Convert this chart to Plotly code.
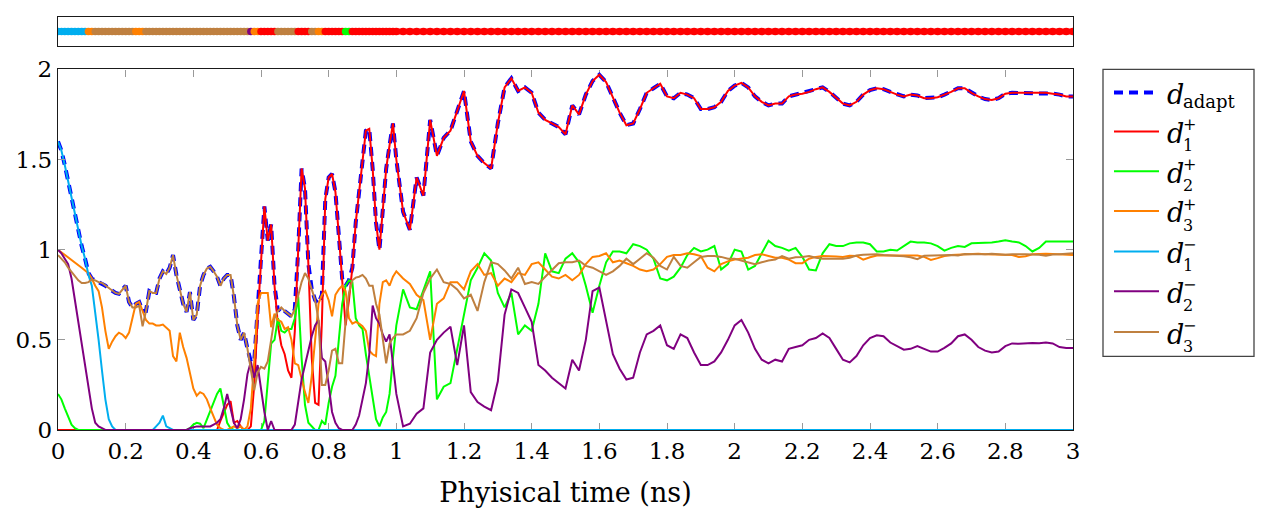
import numpy as np
import plotly.graph_objects as go

# Sampling times (ns): 0.01 ns steps up to 1 ns, 0.02 ns steps afterwards
t_early = np.round(np.arange(0.0, 1.0001, 0.01), 2)
t_late = np.round(np.arange(1.02, 3.0001, 0.02), 2)

# ---- d1+ ----
d1p_early = [
    0, 0, 0, 0, 0, 0, 0, 0, 0, 0,
    0, 0, 0, 0, 0, 0, 0, 0, 0, 0,
    0, 0, 0, 0, 0, 0, 0, 0, 0, 0,
    0, 0, 0, 0, 0, 0, 0, 0, 0, 0,
    0, 0, 0, 0, 0, 0, 0, 0.00, 0.05, 0.10,
    0.14, 0.16, 0.04, 0.05, 0.02, 0.00, 0.00, 0.02, 0.25, 0.62,
    0.95, 1.24, 1.05, 1.14, 0.80, 0.58, 0.47, 0.42, 0.33, 0.29,
    0.55, 1.00, 1.45, 1.34, 0.92, 0.40, 0.15, 0.14, 0.60, 1.28,
    1.40, 1.42, 1.32, 1.08, 0.84, 0.58, 0.72, 0.90, 1.15, 1.32,
    1.50, 1.66, 1.67, 1.45, 1.15, 1.00, 1.22, 1.45, 1.58, 1.70,
    1.50,
]
d1p_late = [
    1.21, 1.11, 1.40, 1.30, 1.72, 1.52, 1.62, 1.66, 1.77, 1.88,
    1.60, 1.52, 1.48, 1.45, 1.70, 1.90, 1.95, 1.88, 1.90, 1.87,
    1.76, 1.72, 1.70, 1.68, 1.64, 1.80, 1.75, 1.86, 1.935, 1.97,
    1.93, 1.84, 1.76, 1.69, 1.70, 1.78, 1.87, 1.895, 1.92, 1.85,
    1.84, 1.87, 1.86, 1.84, 1.78, 1.78, 1.79, 1.82, 1.88, 1.91,
    1.925, 1.90, 1.85, 1.82, 1.80, 1.81, 1.81, 1.85, 1.86, 1.865,
    1.875, 1.89, 1.90, 1.875, 1.84, 1.81, 1.80, 1.82, 1.86, 1.885,
    1.895, 1.89, 1.875, 1.86, 1.85, 1.86, 1.855, 1.84, 1.84, 1.845,
    1.86, 1.875, 1.895, 1.895, 1.87, 1.85, 1.835, 1.83, 1.84, 1.865,
    1.87, 1.87, 1.87, 1.87, 1.87, 1.87, 1.865, 1.86, 1.85, 1.85,
]

# ---- d2+ ----
d2p_early = [
    0.20, 0.17, 0.12, 0.07, 0.03, 0.01, 0, 0, 0, 0,
    0, 0, 0, 0, 0, 0, 0, 0, 0, 0,
    0, 0, 0, 0, 0, 0, 0, 0, 0, 0,
    0, 0, 0, 0, 0, 0, 0, 0, 0, 0.01,
    0.03, 0.04, 0.035, 0.01, 0.06, 0.11, 0.16, 0.20, 0.23, 0.14,
    0.04, 0.01, 0, 0, 0, 0, 0, 0, 0, 0,
    0, 0.05, 0.25, 0.48, 0.50, 0.62, 0.55, 0.54, 0.56, 0.56,
    0.62, 0.74, 0.40, 0.14, 0.04, 0.02, 0.0, 0.0, 0.05, 0.03,
    0.15, 0.24, 0.30, 0.50, 0.70, 0.80, 0.83, 0.82, 0.62, 0.58,
    0.56, 0.42, 0.30, 0.18, 0.06, 0.02, 0.07, 0.10, 0.20, 0.40,
    0.58,
]
d2p_late = [
    0.78, 0.68, 0.67, 0.78, 0.88, 0.17, 0.24, 0.26, 0.45, 0.66,
    0.83, 0.90, 0.98, 0.94, 0.76, 0.68, 0.76, 0.53, 0.58, 0.55,
    0.70, 0.98, 0.88, 0.87, 0.95, 0.98, 0.93, 0.80, 0.65, 0.80,
    0.93, 0.99, 0.99, 0.98, 1.03, 1.02, 1.00, 0.95, 0.84, 0.83,
    0.85, 0.90, 0.97, 1.01, 0.99, 1.00, 1.02, 0.89, 0.92, 1.00,
    0.99, 0.89, 0.91, 0.98, 1.05, 1.02, 1.01, 0.995, 1.01, 0.96,
    0.89, 0.885, 0.98, 1.03, 1.02, 1.02, 1.035, 1.04, 1.04, 1.03,
    0.99, 0.99, 1.00, 0.995, 1.02, 1.045, 1.04, 1.04, 1.035, 1.02,
    0.995, 1.01, 1.02, 1.015, 1.035, 1.036, 1.04, 1.04, 1.045, 1.052,
    1.045, 1.04, 1.02, 0.99, 1.01, 1.045, 1.046, 1.046, 1.045, 1.045,
]

# ---- d3+ ----
d3p_early = [
    1.00, 0.985, 0.97, 0.955, 0.94, 0.925, 0.91, 0.90, 0.885, 0.87,
    0.84, 0.80, 0.77, 0.68, 0.55, 0.45, 0.49, 0.52, 0.54, 0.53,
    0.51, 0.54, 0.62, 0.70, 0.71, 0.66, 0.61, 0.59, 0.59, 0.58,
    0.58, 0.585, 0.57, 0.55, 0.41, 0.38, 0.54, 0.46, 0.40, 0.32,
    0.23, 0.19, 0.21, 0.20, 0.17, 0.12, 0.07, 0.03, 0.01, 0.0,
    0.0, 0.01, 0.02, 0.01, 0.02, 0.0, 0.02, 0.12, 0.38, 0.70,
    0.76, 0.76, 0.76, 0.57, 0.645, 0.61, 0.60, 0.56, 0.57, 0.50,
    0.37, 0.36, 0.28, 0.21, 0.15, 0.30, 0.50, 0.70, 0.75, 0.77,
    0.72, 0.63, 0.75, 0.78, 0.80, 0.77, 0.62, 0.59, 0.60, 0.59,
    0.575, 0.55, 0.44, 0.42, 0.41, 0.70, 0.82, 0.83, 0.80, 0.85,
    0.88,
]
d3p_late = [
    0.84, 0.81, 0.75, 0.72, 0.50, 0.70, 0.73, 0.82, 0.82, 0.78,
    0.88, 0.92, 0.86, 0.87, 0.80, 0.84, 0.82, 0.87, 0.86, 0.92,
    0.93, 0.89, 0.85, 0.84, 0.86, 0.83, 0.86, 0.92, 0.96, 0.965,
    0.98, 0.93, 0.94, 0.925, 0.91, 0.89, 0.88, 0.89, 0.92, 0.96,
    0.97, 0.97, 0.98, 0.975, 0.965, 0.90, 0.88, 0.92, 0.935, 0.945,
    0.95, 0.955, 0.97, 0.975, 0.965, 0.955, 0.955, 0.945, 0.925, 0.925,
    0.95, 0.96, 0.965, 0.965, 0.962, 0.96, 0.966, 0.965, 0.945, 0.958,
    0.967, 0.967, 0.965, 0.967, 0.968, 0.97, 0.968, 0.96, 0.943, 0.953,
    0.965, 0.97, 0.972, 0.974, 0.976, 0.977, 0.975, 0.974, 0.974, 0.973,
    0.97, 0.96, 0.964, 0.974, 0.977, 0.977, 0.976, 0.975, 0.972, 0.97,
]

# ---- d1- ----
d1m_early = [
    1.60, 1.55, 1.47, 1.38, 1.28, 1.19, 1.10, 1.02, 0.95, 0.86,
    0.80, 0.66, 0.50, 0.33, 0.17, 0.06, 0.02, 0, 0, 0,
    0, 0, 0, 0, 0, 0, 0, 0, 0, 0.02,
    0.04, 0.08, 0.02, 0.01, 0, 0, 0, 0, 0, 0,
    0, 0, 0, 0, 0, 0, 0, 0, 0, 0,
    0, 0, 0, 0, 0, 0, 0, 0, 0, 0,
    0, 0, 0, 0, 0, 0, 0, 0, 0, 0,
    0, 0, 0, 0, 0, 0, 0, 0, 0, 0,
    0, 0, 0, 0, 0, 0, 0, 0, 0, 0,
    0, 0, 0, 0, 0, 0, 0, 0, 0, 0,
    0,
]
d1m_late = [
    0, 0, 0, 0, 0, 0, 0, 0, 0, 0,
    0, 0, 0, 0, 0, 0, 0, 0, 0, 0,
    0, 0, 0, 0, 0, 0, 0, 0, 0, 0,
    0, 0, 0, 0, 0, 0, 0, 0, 0, 0,
    0, 0, 0, 0, 0, 0, 0, 0, 0, 0,
    0, 0, 0, 0, 0, 0, 0, 0, 0, 0,
    0, 0, 0, 0, 0, 0, 0, 0, 0, 0,
    0, 0, 0, 0, 0, 0, 0, 0, 0, 0,
    0, 0, 0, 0, 0, 0, 0, 0, 0, 0,
    0, 0, 0, 0, 0, 0, 0, 0, 0, 0,
]

# ---- d2- ----
d2m_early = [
    1.00, 0.98, 0.95, 0.92, 0.84, 0.72, 0.60, 0.48, 0.36, 0.25,
    0.12, 0.04, 0.02, 0.01, 0, 0, 0, 0, 0, 0,
    0, 0, 0, 0, 0, 0, 0, 0, 0, 0,
    0, 0, 0, 0, 0, 0, 0, 0, 0, 0.01,
    0.015, 0.02, 0.02, 0.02, 0.02, 0.02, 0.03, 0.04, 0.06, 0.12,
    0.20, 0.12, 0.04, 0.01, 0.06, 0.17, 0.31, 0.38, 0.29, 0.36,
    0.22, 0.10, 0.0, 0.05, 0, 0, 0, 0, 0, 0,
    0.03, 0.15, 0.28, 0.36, 0.45, 0.52, 0.58, 0.61, 0.40, 0.38,
    0.25, 0.10, 0.04, 0.01, 0, 0, 0, 0, 0.03, 0.08,
    0.17, 0.26, 0.42, 0.69, 0.62, 0.59, 0.53, 0.49, 0.53, 0.36,
    0.20,
]
d2m_late = [
    0.02, 0.035, 0.09, 0.12, 0.43, 0.50, 0.54, 0.573, 0.36, 0.58,
    0.21, 0.155, 0.13, 0.11, 0.27, 0.64, 0.78, 0.76, 0.68, 0.60,
    0.36, 0.33, 0.29, 0.26, 0.23, 0.39, 0.33, 0.50, 0.77, 0.79,
    0.60, 0.42, 0.34, 0.28, 0.29, 0.43, 0.53, 0.55, 0.58, 0.47,
    0.45, 0.53, 0.51, 0.43, 0.36, 0.36, 0.38, 0.43, 0.50, 0.58,
    0.61, 0.54, 0.45, 0.39, 0.37, 0.39, 0.38, 0.45, 0.46, 0.47,
    0.50, 0.51, 0.535, 0.51, 0.45, 0.39, 0.375, 0.41, 0.47, 0.51,
    0.525, 0.52, 0.485, 0.466, 0.445, 0.45, 0.466, 0.45, 0.435, 0.435,
    0.455, 0.48, 0.52, 0.53, 0.50, 0.46, 0.44, 0.43, 0.435, 0.465,
    0.48, 0.478, 0.482, 0.482, 0.481, 0.485, 0.48, 0.46, 0.455, 0.455,
]

# ---- d3- ----
d3m_early = [
    0.97, 0.95, 0.93, 0.90, 0.875, 0.85, 0.83, 0.815, 0.815, 0.82,
    0.835, 0.83, 0.82, 0.815, 0.80, 0.785, 0.77, 0.76, 0.755, 0.775,
    0.80, 0.71, 0.68, 0.68, 0.69, 0.575, 0.66, 0.77, 0.76, 0.76,
    0.84, 0.88, 0.865, 0.90, 0.97, 0.86, 0.77, 0.70, 0.655, 0.765,
    0.61, 0.64, 0.80, 0.86, 0.895, 0.905, 0.88, 0.85, 0.80, 0.84,
    0.86, 0.86, 0.74, 0.58, 0.50, 0.54, 0.45, 0.33, 0.22, 0.32,
    0.35, 0.34, 0.38, 0.50, 0.62, 0.66, 0.68, 0.66, 0.645, 0.63,
    0.67, 0.74, 0.82, 0.87, 0.84, 0.78, 0.72, 0.61, 0.25, 0.25,
    0.33, 0.44, 0.45, 0.37, 0.37, 0.60, 0.76, 0.83, 0.845, 0.85,
    0.86, 0.84, 0.80, 0.80, 0.70, 0.64, 0.50, 0.37, 0.48, 0.51,
    0.53,
]
d3m_late = [
    0.53, 0.55, 0.62, 0.76, 0.84, 0.89, 0.82, 0.81, 0.78, 0.73,
    0.75, 0.66, 0.82, 0.93, 0.92, 0.885, 0.84, 0.90, 0.81, 0.82,
    0.81, 0.85, 0.89, 0.925, 0.93, 0.93, 0.94, 0.91, 0.90, 0.88,
    0.86, 0.88, 0.91, 0.95, 0.92, 0.95, 0.98, 0.955, 0.91, 0.89,
    0.96, 0.91, 0.90, 0.93, 0.96, 0.965, 0.965, 0.96, 0.95, 0.95,
    0.94, 0.93, 0.92, 0.93, 0.94, 0.945, 0.965, 0.95, 0.958, 0.96,
    0.965, 0.955, 0.95, 0.95, 0.95, 0.95, 0.955, 0.968, 0.972, 0.974,
    0.974, 0.97, 0.968, 0.968, 0.963, 0.958, 0.947, 0.966, 0.968, 0.97,
    0.972, 0.97, 0.968, 0.976, 0.974, 0.972, 0.974, 0.977, 0.975, 0.972,
    0.975, 0.977, 0.975, 0.973, 0.972, 0.966, 0.973, 0.975, 0.977, 0.98,
]

t = np.concatenate([t_early, t_late])
series = [
    ("d1p", np.array(d1p_early + d1p_late, dtype=float), "#ff0000"),
    ("d2p", np.array(d2p_early + d2p_late, dtype=float), "#00ff00"),
    ("d3p", np.array(d3p_early + d3p_late, dtype=float), "#ff8000"),
    ("d1m", np.array(d1m_early + d1m_late, dtype=float), "#00aeef"),
    ("d2m", np.array(d2m_early + d2m_late, dtype=float), "#800080"),
    ("d3m", np.array(d3m_early + d3m_late, dtype=float), "#bf8040"),
]

# adaptive distance: the largest of the six candidates at every step
stack = np.vstack([s[1] for s in series])
d_adapt = stack.max(axis=0)
chosen = stack.argmax(axis=0)
chosen_colors = [series[i][2] for i in chosen]

FONT = "DejaVu Serif"
W, H = 1268, 515
ML, MR, MT, MB = 58, 195, 4, 85
PW, PH = W - ML - MR, H - MT - MB


def px_x(px):
    return (px - ML) / PW


def px_y(py):
    return (H - MB - py) / PH


fig = go.Figure()

fig.add_trace(go.Scatter(
    x=t, y=d_adapt, mode="lines",
    line=dict(color="#0000ff", width=4, dash="9px,6px"),
    showlegend=False, hoverinfo="skip",
))
for name, vals, col in series:
    fig.add_trace(go.Scatter(
        x=t, y=vals, mode="lines", name=name,
        line=dict(color=col, width=2),
        showlegend=False,
    ))

# strip showing which candidate is selected: one band per run of equal choice
run_start = 0
for k in range(1, len(t) + 1):
    if k == len(t) or chosen[k] != chosen[run_start]:
        xs = t[run_start:k]
        if len(xs) == 1:
            xs = np.array([xs[0], xs[0] + 1e-3])
        fig.add_trace(go.Scatter(
            x=xs, y=np.zeros(len(xs)), mode="lines",
            line=dict(color=series[chosen[run_start]][2], width=6),
            xaxis="x2", yaxis="y2", showlegend=False, hoverinfo="skip",
        ))
        run_start = k
fig.add_trace(go.Scatter(
    x=t, y=np.zeros_like(t), mode="markers",
    marker=dict(color=chosen_colors, size=7.5, line=dict(width=0)),
    xaxis="x2", yaxis="y2", showlegend=False, hoverinfo="skip",
))

xt = [0, 0.2, 0.4, 0.6, 0.8, 1, 1.2, 1.4, 1.6, 1.8, 2, 2.2, 2.4, 2.6, 2.8, 3]
yt = [0, 0.5, 1, 1.5, 2]

main_top = px_y(58)
strip_bot = px_y(34)

fig.update_layout(
    width=W, height=H,
    margin=dict(l=ML, r=MR, t=MT, b=MB, pad=0),
    paper_bgcolor="white", plot_bgcolor="white",
    font=dict(family=FONT, color="black", size=24),
    xaxis=dict(
        domain=[0, 1], range=[0, 3], anchor="y",
        tickvals=xt, ticktext=[f"{v:g}" for v in xt],
        ticks="inside", ticklen=7, tickwidth=1.3, tickcolor="#999999",
        showline=True, linecolor="#1a1a1a", linewidth=1.4, mirror="allticks",
        showgrid=False, zeroline=False, layer="below traces",
        tickfont=dict(family=FONT, size=23),
        title=dict(text="Phyisical time (ns)", font=dict(family=FONT, size=27), standoff=20),
    ),
    yaxis=dict(
        domain=[0, main_top], range=[0, 2], anchor="x",
        tickvals=yt, ticktext=[f"{v:g}" for v in yt],
        ticks="inside", ticklen=7, tickwidth=1.3, tickcolor="#999999",
        showline=True, linecolor="#1a1a1a", linewidth=1.4, mirror="allticks",
        showgrid=False, zeroline=False,
        tickfont=dict(family=FONT, size=23),
    ),
    xaxis2=dict(
        domain=[0, 1], range=[0, 3], anchor="y2",
        showticklabels=False, ticks="", showgrid=False, zeroline=False,
        showline=True, linecolor="#1a1a1a", linewidth=1.4, mirror=True,
    ),
    yaxis2=dict(
        domain=[strip_bot, 1], range=[-1, 1], anchor="x2",
        showticklabels=False, ticks="", showgrid=False, zeroline=False,
        showline=True, linecolor="#1a1a1a", linewidth=1.4, mirror=True,
    ),
)

# legend box drawn by hand so sub- and superscripts can stack
shapes = [dict(
    type="rect", xref="paper", yref="paper",
    x0=px_x(1103), x1=px_x(1254), y0=px_y(354), y1=px_y(58),
    line=dict(color="#444444", width=1.3), fillcolor="white", layer="above",
)]
annotations = []
legend_rows = [
    ("adapt", None, "#0000ff", "dash"),
    ("1", "+", "#ff0000", "solid"),
    ("2", "+", "#00ff00", "solid"),
    ("3", "+", "#ff8000", "solid"),
    ("1", "\u2212", "#00aeef", "solid"),
    ("2", "\u2212", "#800080", "solid"),
    ("3", "\u2212", "#bf8040", "solid"),
]
row_y = [82, 122, 163, 204, 246, 287, 329]
for (sub, sup, col, style), ry in zip(legend_rows, row_y):
    line = dict(color=col, width=2)
    if style == "dash":
        line = dict(color=col, width=4, dash="9px,6px")
    shapes.append(dict(
        type="line", xref="paper", yref="paper",
        x0=px_x(1114), x1=px_x(1159), y0=px_y(ry), y1=px_y(ry),
        line=line, layer="above",
    ))
    annotations.append(dict(
        text="<i>d</i>", xref="paper", yref="paper",
        x=px_x(1165), y=px_y(ry + 2), xanchor="left", yanchor="middle",
        showarrow=False, font=dict(family=FONT, size=27, color="black"),
    ))
    if sup is None:
        annotations.append(dict(
            text=sub, xref="paper", yref="paper",
            x=px_x(1181), y=px_y(ry + 9), xanchor="left", yanchor="middle",
            showarrow=False, font=dict(family=FONT, size=18, color="black"),
        ))
    else:
        # superscript stacked above subscript in one two-line label
        annotations.append(dict(
            text=f"{sup}<br>{sub}", xref="paper", yref="paper",
            x=px_x(1181), y=px_y(ry + 4), xanchor="left", yanchor="middle",
            align="left", showarrow=False,
            font=dict(family=FONT, size=16, color="black"),
        ))

fig.update_layout(shapes=shapes, annotations=annotations)

fig.write_html("out.html")
